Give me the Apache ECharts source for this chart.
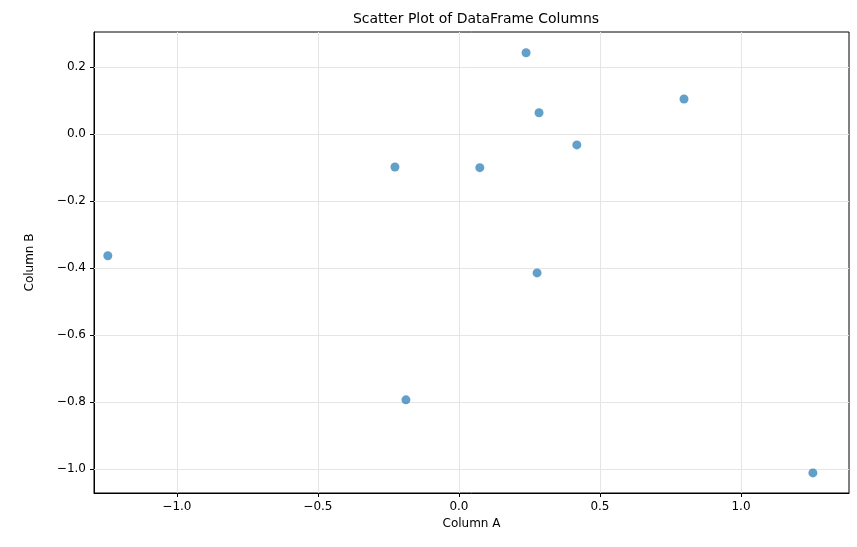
<!DOCTYPE html>
<html><head><meta charset="utf-8">
<script src="https://cdn.jsdelivr.net/npm/echarts@6/dist/echarts.min.js"></script>
<style>html,body{margin:0;padding:0;background:#fff}#c{width:857px;height:547px}</style>
</head><body><div id="c"></div>
<script>
const colA = [0.238, 0.798, 0.284, 0.418, -0.227, 0.074, -1.245, 0.277, -0.188, 1.255];
const colB = [0.242, 0.104, 0.063, -0.033, -0.099, -0.101, -0.364, -0.415, -0.794, -1.012];
const xTicks = [-1.0, -0.5, 0.0, 0.5, 1.0];
const yTicks = [-1.0, -0.8, -0.6, -0.4, -0.2, 0.0, 0.2];
const points = colA.map((a, i) => [a, colB[i]]);
const fmt = v => (Math.round(v * 10) / 10).toFixed(1).replace('-', '\u2212');
const chart = echarts.init(document.getElementById('c'));
const lab = {color: '#000', fontSize: 12, fontFamily: 'DejaVu Sans', formatter: fmt};
const gridLine = {color: '#e5e5e5', type: 'solid', width: 1};
const marks = xTicks.map(v => ({xAxis: v})).concat(yTicks.map(v => ({yAxis: v})));
chart.setOption({
  animation: false,
  title: {text: 'Scatter Plot of DataFrame Columns', left: 471, top: 7, textAlign: 'center',
    textStyle: {fontSize: 14, fontWeight: 'normal', color: '#000', fontFamily: 'DejaVu Sans'}},
  grid: {left: 94, right: 8, top: 32, bottom: 54, show: true, borderColor: '#000', borderWidth: 1},
  xAxis: {type: 'value', min: -1.294, max: 1.383,
    name: 'Column A', nameLocation: 'middle', nameGap: 24,
    nameTextStyle: {color: '#000', fontSize: 12, fontFamily: 'DejaVu Sans'},
    axisLine: {show: true, onZero: false, lineStyle: {color: '#000'}},
    axisTick: {show: true, length: 4, customValues: xTicks, lineStyle: {color: '#000'}},
    axisLabel: Object.assign({customValues: xTicks}, lab),
    splitLine: {show: false}},
  yAxis: {type: 'value', min: -1.072, max: 0.304,
    name: 'Column B', nameLocation: 'middle', nameGap: 58,
    nameTextStyle: {color: '#000', fontSize: 12, fontFamily: 'DejaVu Sans'},
    axisLine: {show: true, onZero: false, lineStyle: {color: '#000'}},
    axisTick: {show: true, length: 4, customValues: yTicks, lineStyle: {color: '#000'}},
    axisLabel: Object.assign({customValues: yTicks}, lab),
    splitLine: {show: false}},
  series: [{type: 'scatter', data: points, symbolSize: 9, z: 3,
    itemStyle: {color: '#1f77b4', opacity: 0.7},
    markLine: {silent: true, symbol: 'none', label: {show: false}, lineStyle: gridLine,
      z: 1, data: marks}}]
});
</script></body></html>
